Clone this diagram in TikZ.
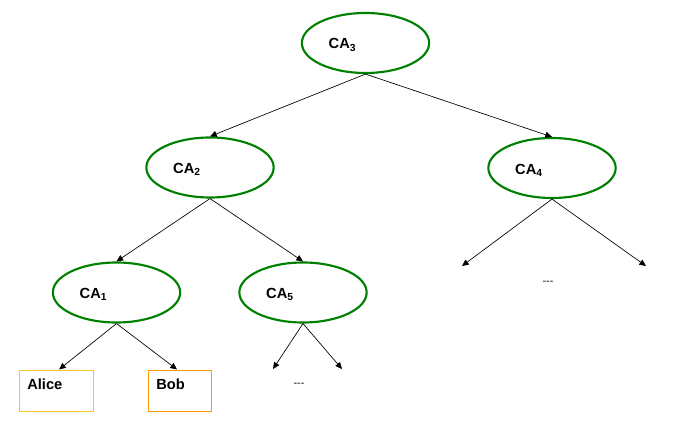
\documentclass[tikz,border=0pt]{standalone}
\usepackage{fontspec}
\setmainfont{Liberation Sans}
\usetikzlibrary{calc,shapes.geometric,arrows.meta}
\definecolor{cagreen}{RGB}{0,128,0}
\definecolor{aliceyellow}{RGB}{255,200,30}
\definecolor{boborange}{RGB}{255,153,0}
\begin{document}
\begin{tikzpicture}[x=0.75pt,y=-0.75pt,
  ca/.style={draw=cagreen,line width=1.6pt,ellipse,minimum width=95.5pt,minimum height=45pt,inner sep=0pt},
  lbl/.style={font=\fontsize{11}{13}\selectfont\bfseries,inner sep=0pt},
  leaf/.style={draw=#1,line width=0.75pt,rectangle,minimum height=30.75pt,inner sep=0pt},
  leaftext/.style={font=\fontsize{11}{13}\selectfont\bfseries,inner sep=0pt,anchor=west},
  edge/.style={-{Triangle[length=5pt,width=4.5pt]},line width=0.5pt,black},
  dots/.style={font=\fontsize{8}{10}\selectfont,inner sep=0pt}]
\useasboundingbox (0,0) rectangle (698,423);
% CA nodes
\node[ca] (ca3) at (365.5,43) {};
\node[ca] (ca2) at (210,167.5) {};
\node[ca] (ca4) at (552,168) {};
\node[ca] (ca1) at (116.5,292.5) {};
\node[ca] (ca5) at (303,292.5) {};
\node[lbl] (l3) at ($(ca3)+(-23,2)$) {CA\textsubscript{3}};
\node[lbl] (l2) at ($(ca2)+(-23,2)$) {CA\textsubscript{2}};
\node[lbl] (l4) at ($(ca4)+(-23,2)$) {CA\textsubscript{4}};
\node[lbl] (l1) at ($(ca1)+(-23,2)$) {CA\textsubscript{1}};
\node[lbl] (l5) at ($(ca5)+(-23,2)$) {CA\textsubscript{5}};
% leaves
\node[leaf=aliceyellow,minimum width=55.5pt] (alice) at (56.5,390.5) {};
\node[leaf=boborange,minimum width=47.25pt] (bob) at (180,390.5) {};
\node[leaftext] (alicet) at (27,384) {Alice};
\node[leaftext] (bobt) at (156,384) {Bob};
% free ends
\coordinate (a4l) at (462,266);
\coordinate (a4r) at (646,266);
\coordinate (a5l) at (273,369);
\coordinate (a5r) at (342,369);
\node[dots] (d4) at (548,283) {{-}{-}{-}};
\node[dots] (d5) at (299,385) {{-}{-}{-}};
% edges
\draw[edge] (ca3.south) -- (ca2.north);
\draw[edge] (ca3.south) -- (ca4.north);
\draw[edge] (ca2.south) -- (ca1.north);
\draw[edge] (ca2.south) -- (ca5.north);
\draw[edge] (ca4.south) -- (a4l);
\draw[edge] (ca4.south) -- (a4r);
\draw[edge] (ca1.south) -- (alice.north-|59,0);
\draw[edge] (ca1.south) -- (bob.north-|177,0);
\draw[edge] (ca5.south) -- (a5l);
\draw[edge] (ca5.south) -- (a5r);
\end{tikzpicture}
\end{document}
